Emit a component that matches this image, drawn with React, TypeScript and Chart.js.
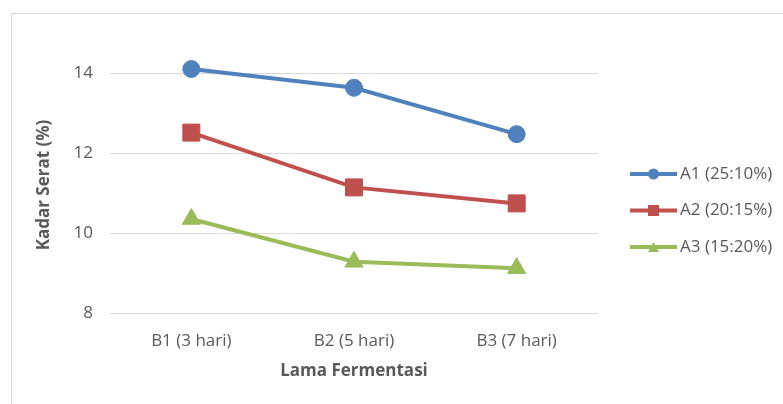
import React, { useEffect, useRef } from "react";
import { Chart, registerables } from "chart.js";

Chart.register(...registerables);

const categories = ["B1 (3 hari)", "B2 (5 hari)", "B3 (7 hari)"];
const seriesNames = ["A1 (25:10%)", "A2 (20:15%)", "A3 (15:20%)"];
const a1Values = [14.1, 13.63, 12.47];
const a2Values = [12.51, 11.14, 10.74];
const a3Values = [10.35, 9.28, 9.12];
const yTickValues = [8, 10, 12, 14];
const yTitle = "Kadar Serat (%)";
const xTitle = "Lama Fermentasi";

const colors = ["#4F81BD", "#C0504D", "#9BBB59"];
const markerStyles = ["circle", "rect", "triangle"] as const;
const markerRadii = [8.5, 12, 10.5];
const FONT = "'Open Sans', sans-serif";
const TEXT_COLOR = "#595959";

function drawMarker(ctx: CanvasRenderingContext2D, style: string, x: number, y: number, size: number) {
  ctx.beginPath();
  if (style === "circle") {
    ctx.arc(x, y, size / 2, 0, Math.PI * 2);
  } else if (style === "rect") {
    ctx.rect(x - size / 2, y - size / 2, size, size);
  } else {
    const h = size * 0.9;
    ctx.moveTo(x, y - h / 2);
    ctx.lineTo(x + size / 2, y + h / 2);
    ctx.lineTo(x - size / 2, y + h / 2);
    ctx.closePath();
  }
  ctx.fill();
}

const legendPlugin = {
  id: "sideLegend",
  afterDraw(chart: any) {
    const ctx: CanvasRenderingContext2D = chart.ctx;
    const area = chart.chartArea;
    const x0 = area.right + 32;
    const x1 = x0 + 47;
    ctx.save();
    seriesNames.forEach((name, i) => {
      const y = 174 + i * 36.5;
      ctx.strokeStyle = colors[i];
      ctx.fillStyle = colors[i];
      ctx.lineWidth = 4;
      ctx.beginPath();
      ctx.moveTo(x0, y);
      ctx.lineTo(x1, y);
      ctx.stroke();
      drawMarker(ctx, markerStyles[i], (x0 + x1) / 2, y, 11);
      ctx.fillStyle = TEXT_COLOR;
      ctx.font = `17px ${FONT}`;
      ctx.textBaseline = "middle";
      ctx.textAlign = "left";
      ctx.fillText(name, x1 + 3, y);
    });
    ctx.restore();
  },
};

export default function App() {
  const canvasRef = useRef<HTMLCanvasElement | null>(null);

  useEffect(() => {
    if (!canvasRef.current) return;
    const seriesValues = [a1Values, a2Values, a3Values];
    const chart = new Chart(canvasRef.current, {
      type: "line",
      data: {
        labels: categories,
        datasets: seriesValues.map((vals, i) => ({
          label: seriesNames[i],
          data: vals,
          borderColor: colors[i],
          backgroundColor: colors[i],
          borderWidth: 4,
          pointStyle: markerStyles[i],
          pointRadius: markerRadii[i],
          pointBorderWidth: 1,
          pointBorderColor: colors[i],
          pointBackgroundColor: colors[i],
          tension: 0,
          clip: false as any,
          fill: false,
        })),
      },
      options: {
        responsive: false,
        animation: false,
        devicePixelRatio: 1,
        layout: { padding: { left: 30, right: 185, top: 57, bottom: 21 } },
        plugins: {
          legend: { display: false },
          tooltip: { enabled: false },
        },
        scales: {
          x: {
            type: "category",
            offset: true,
            grid: { display: false, drawTicks: false },
            border: { display: false },
            ticks: {
              color: TEXT_COLOR,
              padding: 18,
              font: { family: FONT, size: 17 },
              maxRotation: 0,
            },
            title: {
              display: true,
              text: xTitle,
              color: TEXT_COLOR,
              font: { family: FONT, size: 17, weight: "bold" },
              padding: { top: 0, bottom: 2 },
            },
            afterFit(scale: any) {
              scale.height = 70;
            },
          },
          y: {
            min: 8,
            max: 14.4,
            grid: { color: "#d9d9d9", lineWidth: 1, drawTicks: false },
            border: { display: false },
            ticks: {
              color: TEXT_COLOR,
              padding: 17,
              font: { family: FONT, size: 17 },
            },
            afterBuildTicks(scale: any) {
              scale.ticks = yTickValues.map((v) => ({ value: v }));
            },
            title: {
              display: true,
              text: yTitle,
              color: TEXT_COLOR,
              font: { family: FONT, size: 17, weight: "bold" },
              padding: { top: 4, bottom: 0 },
            },
            afterFit(scale: any) {
              scale.width = 80;
            },
          },
        },
      },
      plugins: [legendPlugin],
    });
    return () => chart.destroy();
  }, []);

  return (
    <div style={{ position: "fixed", left: 0, top: 0, width: 783, height: 404, background: "#fff", overflow: "hidden" }}>
      <div
        style={{
          position: "absolute",
          left: 11,
          top: 13,
          width: 800,
          height: 420,
          borderLeft: "1px solid #d9d9d9",
          borderTop: "1px solid #d9d9d9",
        }}
      />
      <canvas ref={canvasRef} width={783} height={404} style={{ position: "absolute", left: 0, top: 0 }} />
    </div>
  );
}
